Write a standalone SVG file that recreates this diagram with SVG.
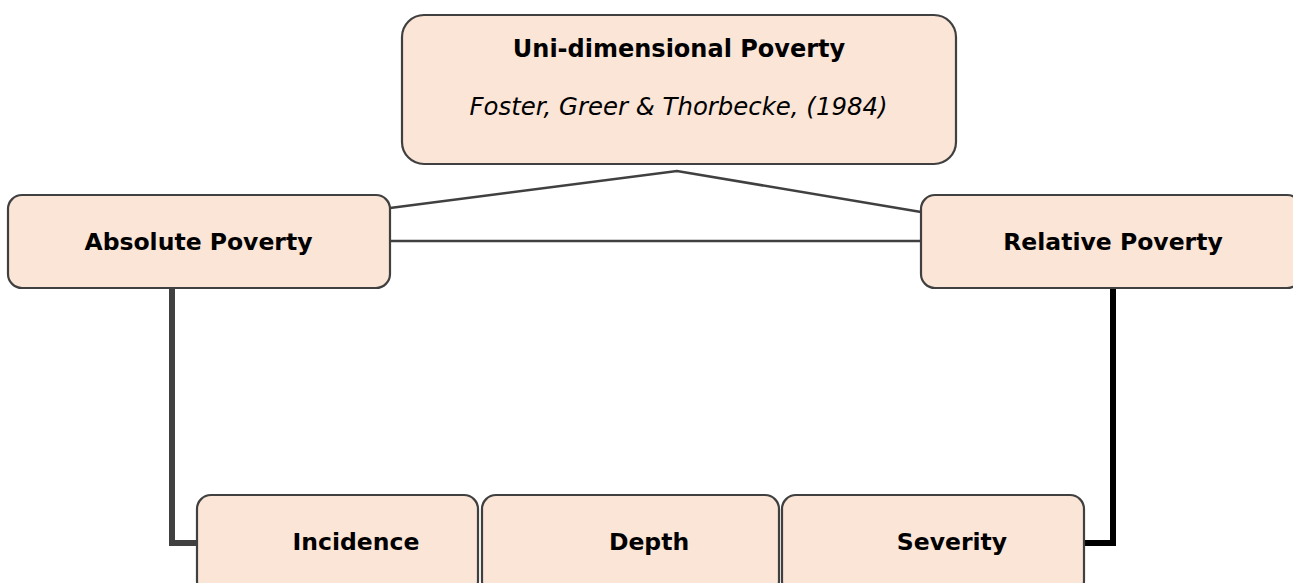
<svg xmlns="http://www.w3.org/2000/svg" width="1293" height="583" viewBox="0 0 1293 583">
<style>
.box{fill:#FBE5D6;stroke:#404040;stroke-width:2.2}
.t{font-family:"DejaVu Sans","Verdana",sans-serif;font-size:23.5px;font-weight:bold;fill:#000;text-anchor:middle}
.i{font-family:"DejaVu Sans","Verdana",sans-serif;font-size:24.4px;font-style:italic;fill:#000;text-anchor:middle}
.c{fill:none;stroke:#404040;stroke-width:2.5}
</style>
<rect width="1293" height="583" fill="#fff"/>
<g id="connectors">
<polyline class="c" points="390,208 677,171 921,212"/>
<line class="c" x1="390" y1="241" x2="921" y2="241"/>
<polyline points="172,288 172,543 197,543" fill="none" stroke="#404040" stroke-width="6"/>
<polyline points="1113,288 1113,543 1084,543" fill="none" stroke="#000" stroke-width="6"/>
</g>
<g id="uni">
<rect class="box" x="402" y="15" width="554" height="149" rx="22"/>
<text class="t" x="679" y="57" style="font-size:24px">Uni-dimensional Poverty</text>
<text class="i" x="678.5" y="115">Foster, Greer &amp; Thorbecke, (1984)</text>
</g>
<g id="absolute">
<rect class="box" x="8" y="195" width="382" height="93" rx="14"/>
<text class="t" x="198.5" y="250">Absolute Poverty</text>
</g>
<g id="relative">
<rect class="box" x="921" y="195" width="380" height="93" rx="14"/>
<text class="t" x="1113" y="250">Relative Poverty</text>
</g>
<g id="incidence">
<rect class="box" x="197" y="495" width="281" height="100" rx="14"/>
<text class="t" x="356" y="550">Incidence</text>
</g>
<g id="depth">
<rect class="box" x="482" y="495" width="297" height="100" rx="14"/>
<text class="t" x="649" y="550">Depth</text>
</g>
<g id="severity">
<rect class="box" x="782" y="495" width="302" height="100" rx="14"/>
<text class="t" x="952" y="550">Severity</text>
</g>
</svg>
